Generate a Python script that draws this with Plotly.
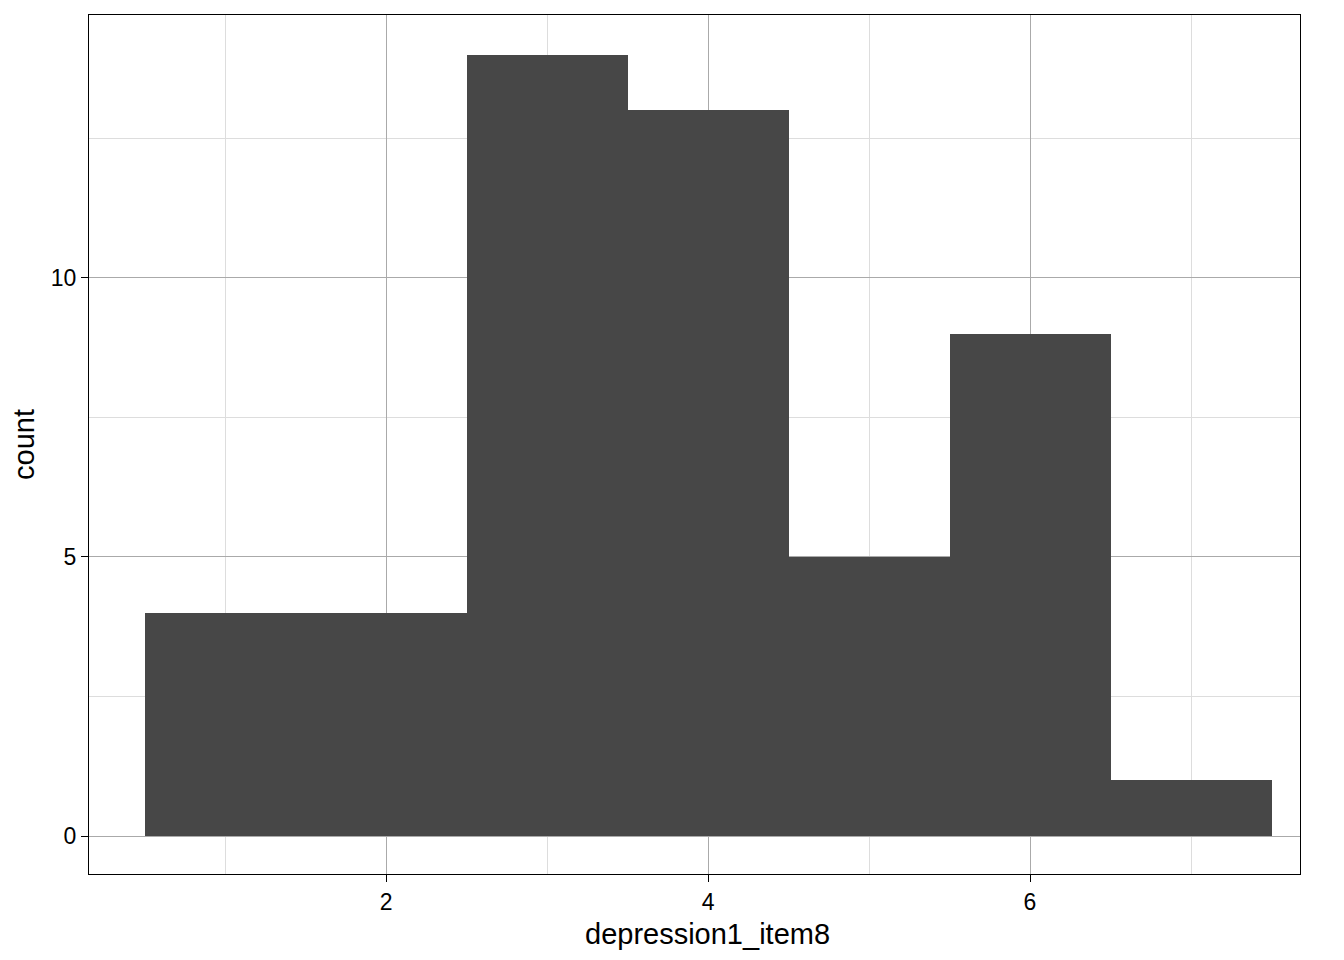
import plotly.graph_objects as go

# histogram bins (binwidth 1, centred on integer scores)
bin_centres = [1, 2, 3, 4, 5, 6, 7]
counts = [4, 4, 14, 13, 5, 9, 1]

x_ticks = [2, 4, 6]
y_ticks = [0, 5, 10]

fig = go.Figure()

fig.add_trace(go.Bar(
    x=bin_centres,
    y=counts,
    width=1,
    marker=dict(color='#474747', line=dict(width=0)),
    hovertemplate='%{x}: %{y}<extra></extra>'
))

axis_font = dict(family='Liberation Sans, Arial, sans-serif', size=23, color='black')
title_font = dict(family='Liberation Sans, Arial, sans-serif', size=29, color='black')

# page body adds ~8px offset, margins compensate for it
fig.update_layout(
    width=1344,
    height=960,
    margin=dict(l=81, r=52, t=7, b=94),
    plot_bgcolor='white',
    paper_bgcolor='white',
    showlegend=False,
    bargap=0,
    xaxis=dict(
        range=[0.155, 7.677],
        tickvals=x_ticks,
        ticktext=[str(v) for v in x_ticks],
        showgrid=True,
        gridcolor='#aaaaaa',
        gridwidth=0.7,
        minor=dict(tickvals=[1, 3, 5, 7], showgrid=True, gridcolor='#dddddd', gridwidth=0.7),
        zeroline=False,
        showline=True,
        linecolor='black',
        linewidth=1.3,
        mirror=True,
        ticks='outside',
        ticklen=7,
        tickwidth=1.3,
        tickcolor='black',
        tickfont=axis_font,
    ),
    yaxis=dict(
        range=[-0.68, 14.71],
        tickvals=y_ticks,
        ticktext=[str(v) for v in y_ticks],
        showgrid=True,
        gridcolor='#aaaaaa',
        gridwidth=0.7,
        minor=dict(tickvals=[2.5, 7.5, 12.5], showgrid=True, gridcolor='#dddddd', gridwidth=0.7),
        zeroline=False,
        showline=True,
        linecolor='black',
        linewidth=1.3,
        mirror=True,
        ticks='outside',
        ticklen=7,
        tickwidth=1.3,
        tickcolor='black',
        tickfont=axis_font,
        title=dict(text='count', font=title_font, standoff=10),
    ),
)

# x axis title as annotation (sits slightly right of panel centre in the original)
fig.add_annotation(
    text='depression1_item8',
    xref='paper', yref='paper',
    x=0.511, y=-0.0698,
    xanchor='center', yanchor='middle',
    showarrow=False,
    font=title_font,
)

fig.write_html("out.html")
